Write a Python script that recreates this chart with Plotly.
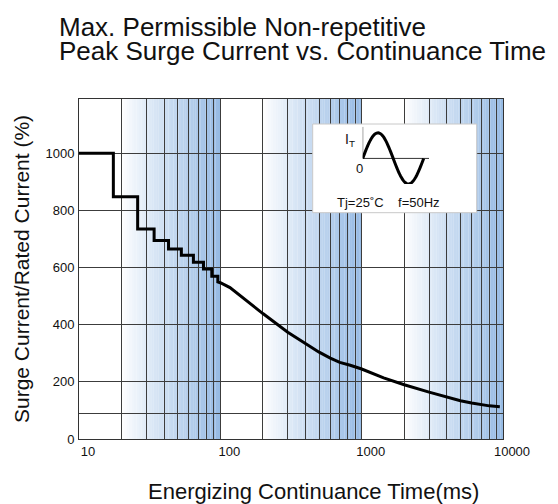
import numpy as np
import plotly.graph_objects as go

# ---------------- data ----------------
time_ms = [10, 17.5, 17.5, 26, 26, 34, 34, 43, 43, 53, 53, 64.5, 64.5, 76, 76,
           87, 87, 96, 96, 100, 117, 146, 200, 300, 400, 500, 600, 700, 830,
           1000, 1430, 2000, 3000, 4000, 5000, 6000, 7000, 8000, 9500]
surge_pct = [1000, 1000, 848, 848, 735, 735, 695, 695, 665, 665, 643, 643, 619, 619, 595,
             595, 570, 570, 550, 547, 530, 492, 439, 374, 333, 304, 283, 268, 258,
             245, 214, 190, 164, 146, 134, 126, 120, 116, 113]

x_tick_vals = [10, 100, 1000, 10000]
x_tick_text = ["10", "100", "1000", "10000"]
x_minor_vals = [m * d for d in (10, 100, 1000) for m in range(2, 10)]
y_tick_vals = [0, 200, 400, 600, 800, 1000]
y_tick_text = ["0", "200", "400", "600", "800", "1000"]
y_minor_vals = [90]
decades = [10, 100, 1000]

title_lines = ["Max. Permissible Non-repetitive", "Peak Surge Current vs. Continuance Time"]
x_title = "Energizing Continuance Time(ms)"
y_title = "Surge Current/Rated Current (%)"
inset_text = "Tj=25˚C    f=50Hz"

# ---------------- layout geometry ----------------
# the page body adds an 8px offset, so the figure is laid out 8px up/left
OFF = 8
W, H = 558, 504
PL, PT, PR, PB = 79, 99, 503, 439       # plot box in screenshot pixels
L, T = PL - OFF, PT - OFF
PW, PH = PR - PL, PB - PT
R = W - L - PW
B = H - T - PH


def px(xp, yp):
    return (xp - PL) / PW, (PB - yp) / PH


FONT = "Liberation Sans, Arial, sans-serif"
GRID = "#3c3c3c"

fig = go.Figure()

# main curve
fig.add_trace(go.Scatter(x=time_ms, y=surge_pct, mode="lines",
                         line=dict(color="black", width=3), hoverinfo="skip",
                         showlegend=False))

shapes = []
# blue gradient bands: from 2x to 10x of each decade
N = 40
c0 = np.array([255, 255, 255])
c1 = np.array([150, 186, 228])
for d in decades:
    lo, hi = np.log10(2 * d), np.log10(10 * d)
    edges = np.linspace(lo, hi, N + 1)
    for i in range(N):
        f = ((i + 0.5) / N) ** 0.9
        c = (c0 + (c1 - c0) * f).round().astype(int)
        shapes.append(dict(type="rect", xref="x", yref="paper",
                           x0=10 ** edges[i], x1=10 ** edges[i + 1] * 1.002, y0=0, y1=1,
                           fillcolor=f"rgb({c[0]},{c[1]},{c[2]})", line=dict(width=0),
                           layer="below"))

# inset white box (covers the grid)
bx0, by0 = px(312.7, 212.7)
bx1, by1 = px(476.7, 124)
shapes.append(dict(type="rect", xref="paper", yref="paper", x0=bx0, x1=bx1, y0=by0, y1=by1,
                   fillcolor="white", line=dict(color="#c8c8c8", width=1), layer="above"))
# inset axes lines
shapes.append(dict(type="line", xref="x2", yref="y2", x0=0, x1=1.087, y0=0, y1=0,
                   line=dict(color="#333", width=1), layer="above"))
shapes.append(dict(type="line", xref="x2", yref="y2", x0=0, x1=0, y0=0, y1=1.24,
                   line=dict(color="#333", width=1), layer="above"))
# inset sine waveform icon
t = np.linspace(0, 1, 80)
path = "M " + " L ".join(f"{a:.4f},{b:.4f}" for a, b in zip(t, np.sin(2 * np.pi * t)))
shapes.append(dict(type="path", xref="x2", yref="y2", path=path,
                   line=dict(color="black", width=3), layer="above"))

ax0, ay0 = px(362.7, 184)
ax1, ay1 = px(429, 126.7)

annotations = []
for i, line in enumerate(title_lines):
    xx, yy = px(57, 27 + 24 * i)
    annotations.append(dict(text=line, xref="paper", yref="paper", x=xx, y=yy,
                            xanchor="left", yanchor="middle", showarrow=False,
                            font=dict(family=FONT, size=26, color="#111")))
xx, yy = px(313, 492)
annotations.append(dict(text=x_title, xref="paper", yref="paper", x=xx, y=yy,
                        xanchor="center", yanchor="middle", showarrow=False,
                        font=dict(family=FONT, size=22, color="#111")))
xx, yy = px(350, 140)
annotations.append(dict(text="I<sub>T</sub>", xref="paper", yref="paper", x=xx, y=yy,
                        xanchor="center", yanchor="middle", showarrow=False,
                        font=dict(family=FONT, size=14, color="#111")))
xx, yy = px(359, 168)
annotations.append(dict(text="0", xref="paper", yref="paper", x=xx, y=yy,
                        xanchor="center", yanchor="middle", showarrow=False,
                        font=dict(family=FONT, size=13, color="#111")))
xx, yy = px(388.5, 202)
annotations.append(dict(text=inset_text, xref="paper", yref="paper", x=xx, y=yy,
                        xanchor="center", yanchor="middle", showarrow=False,
                        font=dict(family=FONT, size=13, color="#111")))

fig.update_layout(
    width=W, height=H,
    margin=dict(l=L, r=R, t=T, b=B, autoexpand=False),
    paper_bgcolor="white", plot_bgcolor="white",
    font=dict(family=FONT, color="#111"),
    showlegend=False,
    shapes=shapes,
    annotations=annotations,
    xaxis=dict(type="log", range=[1, 4], tickmode="array", tickvals=x_tick_vals,
               ticktext=x_tick_text, showgrid=True, gridcolor=GRID, gridwidth=1,
               minor=dict(tickmode="array", tickvals=x_minor_vals, showgrid=True,
                          gridcolor=GRID, gridwidth=1, ticks=""),
               showline=True, linecolor="#333", linewidth=1, mirror=True, ticks="",
               zeroline=False, tickfont=dict(size=13, color="#111"), ticklabelshift=9,
               fixedrange=True),
    yaxis=dict(range=[0, 1190], tickmode="array", tickvals=y_tick_vals, ticktext=y_tick_text,
               showgrid=True, gridcolor=GRID, gridwidth=1,
               minor=dict(tickmode="array", tickvals=y_minor_vals, showgrid=True,
                          gridcolor=GRID, gridwidth=1, ticks=""),
               showline=True, linecolor="#333",
               linewidth=1, mirror=True, ticks="", zeroline=False,
               tickfont=dict(size=13, color="#111"), ticklabelstandoff=1,
               title=dict(text=y_title, font=dict(size=21, color="#111"), standoff=10),
               fixedrange=True),
    xaxis2=dict(domain=[ax0, ax1], range=[0, 1.087], visible=False, anchor="y2", fixedrange=True),
    yaxis2=dict(domain=[ay0, ay1], range=[-1, 1.24], visible=False, anchor="x2", fixedrange=True),
)

fig.write_html("out.html")
